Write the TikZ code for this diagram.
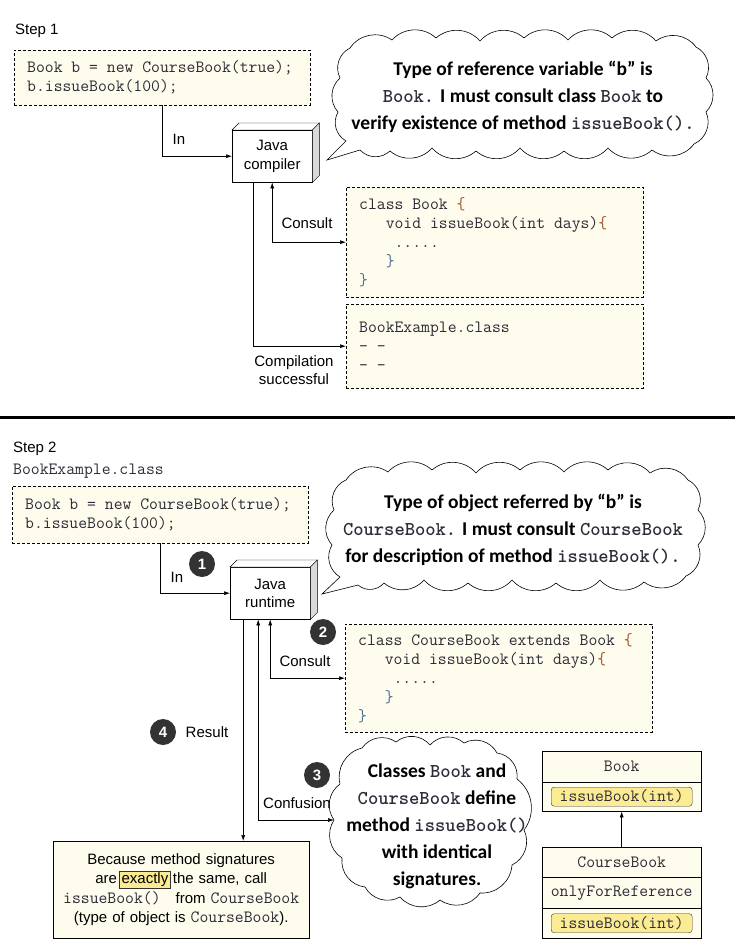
\documentclass[tikz,border=0pt]{standalone}
\usepackage{fontspec}
\setmainfont{Liberation Sans}
\newfontfamily\handfont{Carlito}
\usetikzlibrary{arrows.meta,positioning}
\definecolor{paper}{HTML}{FEFCEC}
\definecolor{marker}{HTML}{FBEB93}
\definecolor{ink}{HTML}{333333}
\definecolor{codeink}{HTML}{2E2A38}
\definecolor{openbr}{HTML}{A0522D}
\definecolor{closebr}{HTML}{4F6C93}
\newcommand\jcode[1]{{\ttfamily\fontsize{17.2}{19}\selectfont\color{codeink}#1}}
\newcommand\cw[1]{{\ttfamily\fontsize{19.6}{27}\selectfont\color{codeink}#1}}
\newcommand\ob{{\color{openbr}\{}}
\newcommand\cb{{\color{closebr}\}}}
\newcommand\hlword[1]{{\fboxsep=1.5pt\fboxrule=0.6pt\fcolorbox{ink}{marker}{#1}}}

\begin{document}
\begin{tikzpicture}[x=1pt, y=-1pt, >={Latex[length=6pt,width=4pt]},
  every node/.style={font=\fontsize{15}{18.5}\selectfont},
  truespace/.style={execute at begin node={\spaceskip=0pt\xspaceskip=0pt\relax}},
  codebox/.style={draw, dash pattern=on 3pt off 2pt, fill=paper, anchor=north west, align=left,
    inner xsep=13pt, inner ysep=0pt, text=codeink, truespace, font=\ttfamily\fontsize{17.2}{19}\selectfont},
  machine/.style={draw, fill=white, anchor=north west, align=center, minimum width=80pt,
    minimum height=52pt, inner sep=0pt},
  flow/.style={->, line width=0.6pt},
  badge/.style={circle, fill=ink, text=white, minimum size=26pt, inner sep=0pt,
    font=\bfseries\fontsize{15}{15}\selectfont},
  puff/.style={bend left=45},
  thought/.style={draw, fill=white, line width=0.6pt},
  thinktext/.style={align=center, truespace, font=\handfont\bfseries\fontsize{19.5}{27}\selectfont},
  umlbox/.style={draw, fill=paper, minimum width=159pt, inner sep=0pt, text=codeink,
    font=\ttfamily\fontsize{17.2}{19}\selectfont},
  umlop/.style={draw=ink, fill=marker, rounded corners=3pt, minimum width=141pt,
    minimum height=19pt, inner sep=0pt, text=codeink, font=\ttfamily\fontsize{17.2}{19}\selectfont}
  ]
  \useasboundingbox (0,0) rectangle (735,949);

  % Step 1: compile time
  \node[anchor=base west, inner xsep=0pt] (stepA) at (15,35) {Step 1};
  \node[codebox, text width=270pt, minimum height=55pt] (codeA) at (14,50)
    {Book b = new CourseBook(true);\\b.issueBook(100);};
  \node[machine] (compiler) at (232,130) {Java\\compiler};
  \node[codebox, text width=271pt, minimum height=110pt] (bookcls) at (346,187)
    {class Book \ob\\\mbox{}~~~void issueBook(int days)\ob\\\mbox{}~~~~.....\\\mbox{}~~~\cb\\\cb};
  \node[codebox, text width=271pt, minimum height=84pt] (classfile) at (346,304)
    {BookExample.class\\– –\\– –};

  \draw[flow] (codeA.south) |- (compiler.west);
  \draw[flow, <->] (compiler.south) |- (bookcls.west);
  \draw[flow] ([xshift=-19pt]compiler.south) |- (classfile.west);
  \node[anchor=base] (inA) at (179,145) {In};
  \node[anchor=base] (consultA) at (307,229) {Consult};
  \node[align=center] (doneA) at (294,370) {Compilation\\successful};

  \draw[thought] (350,48) \foreach \x/\y in {392/40, 436/38, 480/41, 524/38, 568/40, 612/38, 656/41, 696/47,
      706/78, 706/112, 694/144, 652/150, 608/148, 564/151, 520/148, 476/151, 432/148, 390/151, 360/150}
    { to[puff] (\x,\y) } -- (327,160) -- (346,141)
    \foreach \x/\y in {338/112, 340/78, 350/48} { to[puff] (\x,\y) } -- cycle;
  \node[thinktext] (noteA) at (523,97) {Type of reference variable “b” is\\
    \cw{Book.} I must consult class \cw{Book} to\\
    verify existence of method \cw{issueBook().}};

  \draw[line width=3pt] (0,417.5) -- (735,417.5);

  % Step 2: run time
  \node[anchor=base west, inner xsep=0pt] (stepB) at (13,452) {Step 2};
  \node[anchor=base west, inner xsep=0pt, text=codeink, font=\ttfamily\fontsize{17.2}{19}\selectfont] (fileB) at (13,474) {BookExample.class};
  \node[codebox, text width=270pt, minimum height=57pt] (codeB) at (12,486)
    {Book b = new CourseBook(true);\\b.issueBook(100);};
  \node[machine] (runtime) at (230,567) {Java\\runtime};
  \node[codebox, text width=281pt, minimum height=108pt] (coursecls) at (345,624)
    {class CourseBook extends Book \ob\\\mbox{}~~~void issueBook(int days)\ob\\\mbox{}~~~~.....\\\mbox{}~~~\cb\\\cb};

  \draw[thought] (346,480) \foreach \x/\y in {388/472, 432/470, 476/473, 520/470, 564/472, 608/470, 650/473, 688/480,
      698/510, 698/545, 686/576, 644/582, 600/580, 556/583, 512/580, 468/583, 424/580, 384/583, 358/585}
    { to[puff] (\x,\y) } -- (322,594) -- (340,577)
    \foreach \x/\y in {332/545, 334/510, 346/480} { to[puff] (\x,\y) } -- cycle;
  \node[thinktext] (noteB) at (513,530) {Type of object referred by “b” is\\
    \cw{CourseBook.} I must consult \cw{CourseBook}\\
    for description of method \cw{issueBook().}};

  \coordinate (cloudCin) at (334,820);
  \draw[thought] (362,748) \foreach \x/\y in {396/742, 430/745, 464/743, 497/753, 517/779, 524/830, 512/865,
      480/893, 440/900, 400/897, 365/887, 342/858, 334/820, 340/784, 362/748} { to[puff] (\x,\y) } -- cycle;
  \node[thinktext] (noteC) at (437,826) {Classes \cw{Book} and\\\cw{CourseBook} define\\
    method \cw{issueBook()}\\with identical\\signatures.};

  \node[draw, fill=paper, anchor=north west, text width=244pt, inner xsep=6pt, minimum height=97pt,
    align=center, font=\fontsize{15}{19.5}\selectfont] (result) at (53,841)
    {Because method signatures\\are\,\hlword{exactly}\,the same, call\\\jcode{issueBook()}~~~from \jcode{CourseBook}\\(type of object is \jcode{CourseBook}).};

  \draw[flow] (codeB.south) |- (runtime.west);
  \draw[flow, <->] (runtime.south) |- (coursecls.west);
  \draw[flow, <->] ([xshift=-12pt]runtime.south) |- (cloudCin);
  \draw[flow] ([xshift=-27pt]runtime.south) -- ([xshift=-27pt]runtime.south |- result.north);
  \node[anchor=base] (inB) at (177,582) {In};
  \node[badge] (stepone) at (202,564) {1};
  \node[anchor=base] (consultB) at (305,666) {Consult};
  \node[badge] (steptwo) at (323,632) {2};
  \node[anchor=base] (resultB) at (207,737) {Result};
  \node[badge] (stepfour) at (163,732) {4};
  \node[anchor=base] (confuseB) at (297,808) {Confusion};
  \node[badge] (stepthree) at (317,775) {3};

  % class diagram
  \node[umlbox, minimum height=31pt, anchor=north west] (bookhead) at (542,751) {Book};
  \node[umlbox, minimum height=29pt, below=-0.4pt of bookhead] (bookops) {};
  \node[umlop] (bookop) at (bookops) {issueBook(int)};
  \node[umlbox, minimum height=30pt, anchor=north west] (cbhead) at (542,847) {CourseBook};
  \node[umlbox, minimum height=31pt, below=-0.4pt of cbhead] (cbfields) {onlyForReference};
  \node[umlbox, minimum height=30pt, below=-0.4pt of cbfields] (cbops) {};
  \node[umlop] (cbop) at (cbops) {issueBook(int)};
  \draw[flow] (cbhead) -- (bookops);

  \foreach \m in {compiler,runtime} {
    \filldraw[fill=white] (\m.north west) -- ++(7,-7) -- ([shift={(7,-7)}]\m.north east) -- (\m.north east) -- cycle;
    \filldraw[fill=black!15] (\m.north east) -- ++(7,-7) -- ([shift={(7,-7)}]\m.south east) -- (\m.south east) -- cycle;
  }
\end{tikzpicture}
\end{document}
